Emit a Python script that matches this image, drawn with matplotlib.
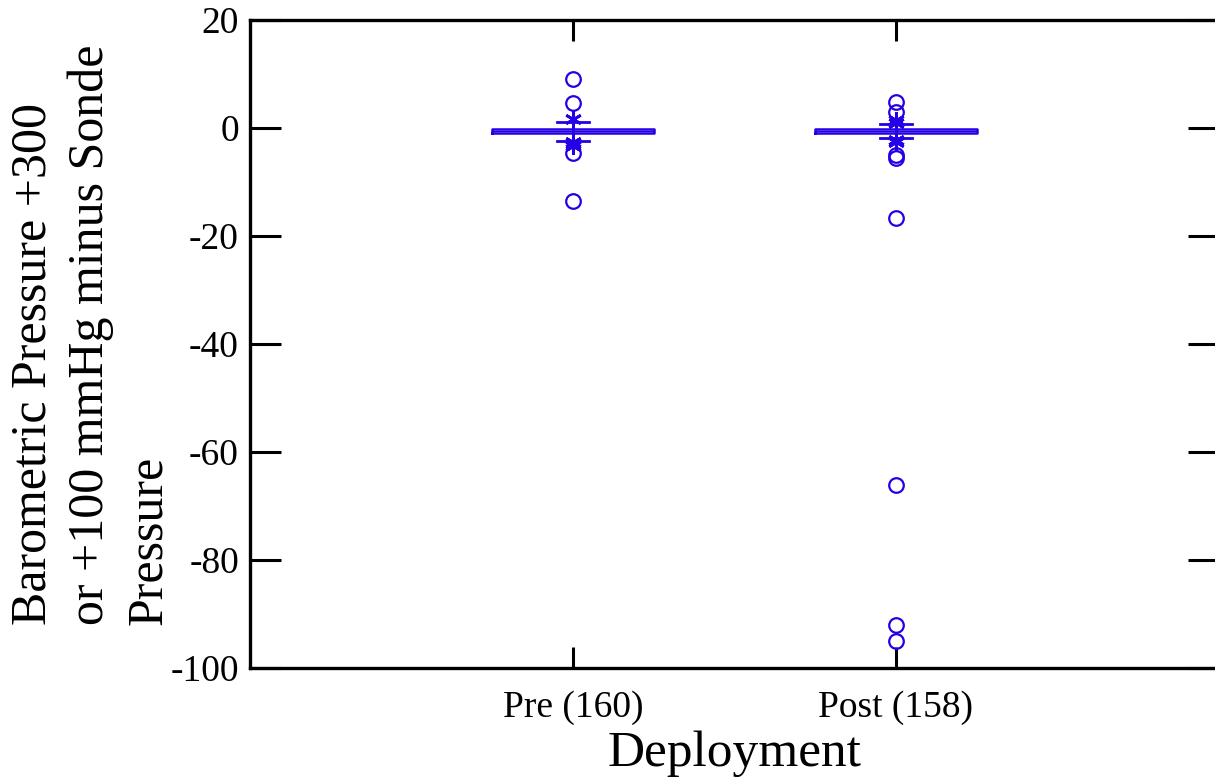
import matplotlib
matplotlib.use('Agg')
import matplotlib.pyplot as plt

plt.rcParams['font.family'] = ['Liberation Serif', 'DejaVu Serif']
plt.rcParams['axes.unicode_minus'] = False

# Data
groups = ['Pre (160)', 'Post (158)']
whis_lo = [-2.35, -1.9]
q1 = [-1.0, -0.95]
median = [-0.6, -0.6]
q3 = [-0.2, -0.25]
whis_hi = [1.17, 0.74]
# mild outliers (asterisks) and extreme outliers (circles)
mild = [[1.6, -2.6, -3.0, -3.4], [1.5, 1.0, -2.2, -2.5]]
extreme = [[9.1, 4.6, -4.6, -13.6],
           [4.9, 3.0, -5.0, -5.6, -16.6, -66.1, -92.0, -95.0]]
yticks = [20, 0, -20, -40, -60, -80, -100]

blue = '#2400e6'

fig = plt.figure(figsize=(12.15, 7.82), dpi=100)
ax = fig.add_axes([250 / 1215, 114 / 782, 969 / 1215, 648 / 782])

stats = []
for i in range(len(groups)):
    stats.append({'whislo': whis_lo[i], 'q1': q1[i], 'med': median[i],
                  'q3': q3[i], 'whishi': whis_hi[i], 'fliers': []})

pos = list(range(1, len(groups) + 1))
ax.bxp(stats, positions=pos, widths=0.5, capwidths=0.1, showfliers=False,
       boxprops=dict(color=blue, linewidth=1.8),
       whiskerprops=dict(color=blue, linewidth=2),
       capprops=dict(color=blue, linewidth=2),
       medianprops=dict(color=blue, linewidth=1.0))

for i, p in enumerate(pos):
    ax.plot([p] * len(mild[i]), mild[i], linestyle='none', marker=(6, 2, 0),
            markersize=12, markeredgewidth=2, color=blue)
    ax.plot([p] * len(extreme[i]), extreme[i], linestyle='none', marker='o',
            markersize=10.5, markeredgewidth=1.6, markerfacecolor='none',
            markeredgecolor=blue)

ax.set_xlim(0, 3)
ax.set_ylim(-100, 20)
ax.set_xticks(pos)
ax.set_xticklabels(groups)
ax.set_yticks(yticks)
ax.set_yticklabels([str(t) for t in yticks])

ax.tick_params(axis='y', direction='in', length=22, width=2.2, right=True,
               labelsize=27, pad=8)
ax.tick_params(axis='x', direction='in', length=15, width=2.2, top=True,
               labelsize=27, pad=16)
for s in ax.spines.values():
    s.set_linewidth(2.4)

ax.set_xlabel('Deployment', fontsize=37, labelpad=4)
fig.text(10 / 1215, 157 / 782,
         'Barometric Pressure +300\nor +100 mmHg minus Sonde\nPressure',
         fontsize=36, rotation=90, ha='left', va='bottom',
         multialignment='left', linespacing=1.32)

fig.savefig('out.png', dpi=100)
